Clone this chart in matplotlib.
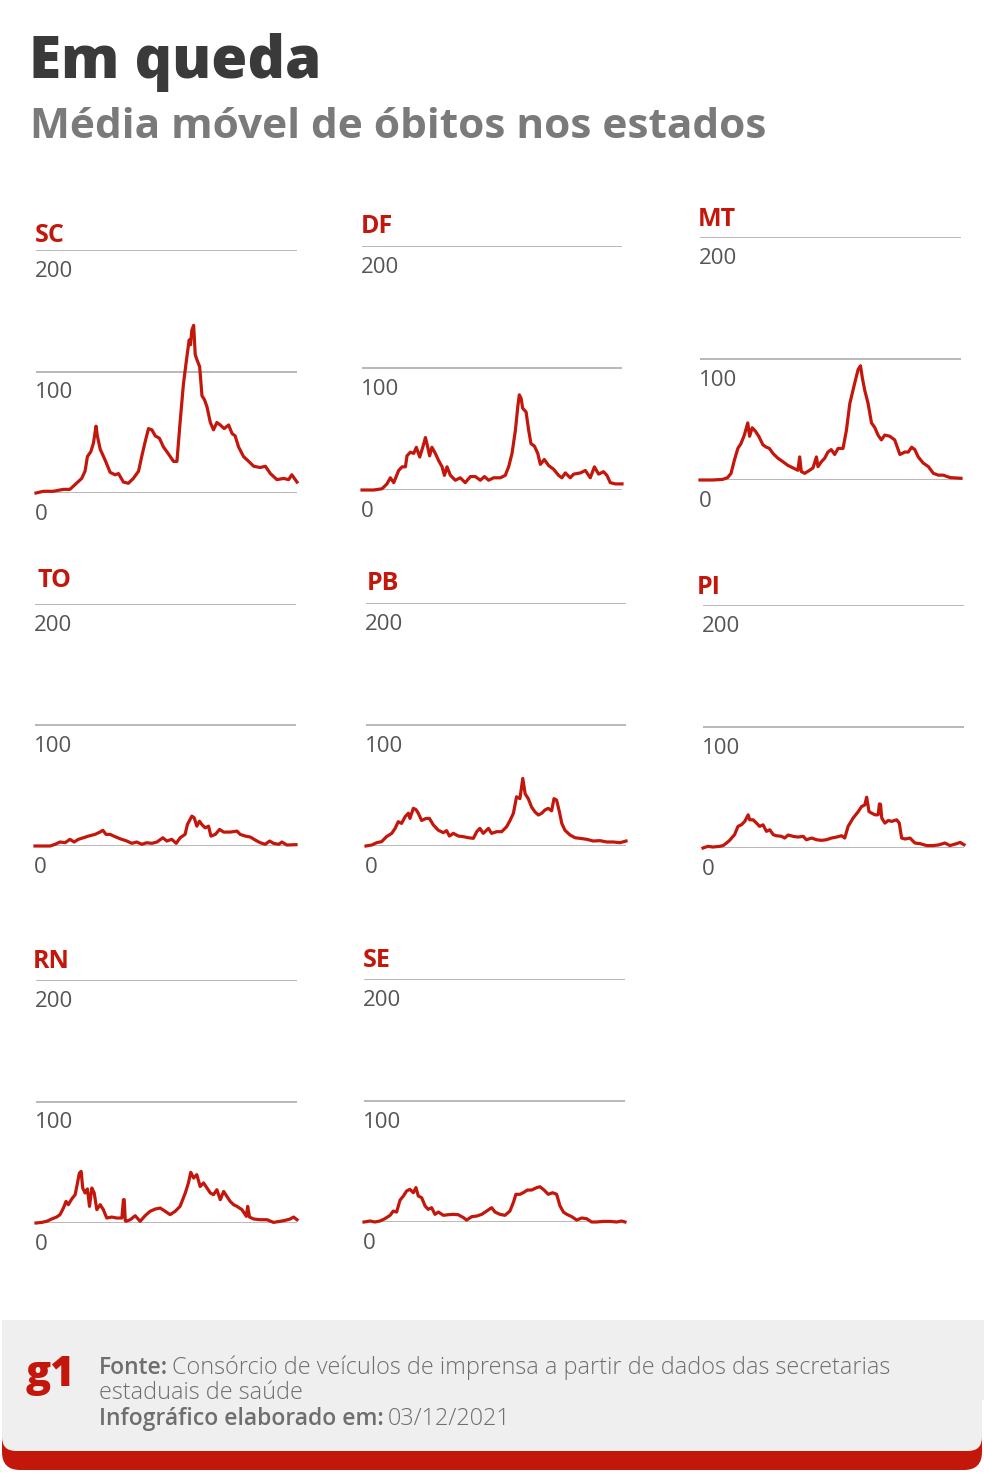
import matplotlib
matplotlib.use("Agg")
import matplotlib.pyplot as plt
from matplotlib.patches import FancyBboxPatch, Rectangle

W, H = 984, 1480
RED = "#c4170c"
GRID = "#acacac"
TICK = "#555555"
FOOT = "#6e6e6e"

plt.rcParams["font.family"] = ["Open Sans", "DejaVu Sans"]

# position along the period (% of the timeline) and 7-day moving average of deaths
states = ["SC", "DF", "MT", "TO", "PB", "PI", "RN", "SE"]

sc_t = [0, 2.8, 6.6, 10.5, 13, 15, 17.5, 18.8, 19.7, 21, 22, 23, 23.5, 24.6, 26.5, 28.4,
        30.3, 31.6, 33.5, 35.4, 37.3, 39.3, 40.5, 41.8, 43.1, 44.4, 45.7, 47.3, 48.8, 50.8,
        52.7, 54, 55.2, 56.5, 57.8, 58.7, 59.2, 59.7, 60.4, 61, 61.6, 62.7, 63.6, 64.5, 65.5,
        66.8, 68, 69.3, 70.6, 72.1, 73.8, 75.1, 76.3, 77.6, 79.5, 81.5, 83.4, 85.9, 87.9,
        89.8, 92.3, 94.9, 96.8, 98, 100]
sc_v = [0, 1.4, 1.4, 3, 3, 7, 12, 18, 30, 34, 41, 55, 47, 36, 27, 17,
        15, 16, 9, 8, 12, 18, 30, 42, 53, 52, 47, 45, 38, 32,
        26, 26, 58, 90, 112, 126, 122, 134, 138, 114, 110, 104, 80, 77, 71,
        58, 52, 58, 56, 53, 56, 49, 47, 38, 30, 26, 22, 21, 22,
        16, 11, 12, 11, 15, 9]

df_t = [0, 4.5, 7.7, 9.6, 10.9, 12.2, 14.1, 15.4, 16.7, 17.3, 18.6, 19.9, 20.9, 22.2, 23.5,
        24.4, 25.3, 26, 26.9, 28.2, 29.5, 30.8, 31.7, 32.7, 34, 35.9, 37.8, 39.7, 41.7, 43.6,
        45.5, 47.1, 48.7, 50.6, 53.2, 55.1, 56.4, 57.7, 59, 59.9, 60.5, 61.2, 61.8, 63.1,
        64.1, 65, 66.3, 67.6, 68.6, 70.1, 71.8, 73.7, 75.6, 76.9, 78.2, 80.1, 81.4, 84, 85.9,
        87.8, 89.4, 91, 92.9, 94.2, 95.5, 97.4, 100]
df_v = [0, 0, 1, 5, 10, 6, 16, 19, 19, 28, 31, 30, 35, 27, 36,
        43, 35, 28, 35, 30, 24, 19, 12, 19, 12, 8, 10, 6, 11, 11,
        8, 11, 8, 10, 10, 12, 19, 30, 49, 68, 78, 75, 67, 64,
        49, 38, 36, 30, 21, 25, 20, 17, 12, 10, 14, 10, 13, 14, 16,
        10, 19, 13, 15, 12, 6, 5, 5]

mt_t = [0, 4.9, 8.7, 10.6, 11.9, 13.2, 14.5, 15.7, 17, 18.3, 19, 20, 21.3, 22.5, 24.1, 25.4,
        26.6, 27.9, 29.8, 31.8, 33.7, 35.6, 37.5, 38.2, 38.8, 40.1, 42, 43.3, 44.6, 45.2,
        46.5, 47.8, 49, 50.3, 51.6, 52.9, 54.8, 56.1, 57.4, 59.3, 60.6, 61.5, 62.2, 63.1,
        64.4, 65.7, 67, 68.2, 69.5, 70.8, 72.7, 74.6, 76.6, 78.5, 79.8, 81.1, 82.3, 83.6,
        85.5, 87.5, 89.4, 91.3, 93.2, 95.8, 100]
mt_v = [0, 0, 0.5, 2, 5.5, 16.5, 26, 30, 37, 47, 36, 43, 40, 36, 29, 27,
        26, 22, 18, 15, 12, 10, 8, 19, 7, 5.5, 8, 10, 19, 11,
        15, 18, 23, 25, 21, 26, 26, 41, 63, 80, 91, 94, 84, 74,
        63, 47, 43, 37, 33, 37, 36, 33, 21, 23, 23, 27, 25, 19,
        14, 11, 5.5, 4, 4, 2, 1.4]

to_t = [0, 5.8, 7.7, 9.6, 11.5, 13.4, 15, 16.6, 18.5, 20.5, 23, 24.9, 26, 27.2, 28.8, 30.7,
        32.6, 35.2, 37.1, 39, 40.9, 42.8, 44.8, 46.7, 49, 50.5, 52.4, 54.1, 55.6, 57.5,
        58.4, 60.1, 61, 62, 63, 63.9, 65.2, 66.5, 67.4, 69.1, 70.7, 72.3, 74.8, 77.4,
        78.6, 80.6, 82.5, 84.4, 86.3, 88.2, 89.9, 91.4, 93.4, 94.6, 96.5, 100]
to_v = [0, 0, 1.4, 3.3, 2.7, 5.5, 3.3, 5.5, 6.8, 8.2, 9.6, 11.5, 13, 9.6, 9.6, 7.7,
        6, 4.1, 2.2, 3.3, 1.4, 2.7, 2.2, 3.3, 6.8, 4.1, 5.5, 2.2, 6.8, 9.6,
        17.8, 24.7, 23.3, 16.4, 20.5, 17.8, 15, 16.4, 8.2, 9.6, 13.7, 11.5, 11.5, 12.3,
        9.6, 8.2, 7.4, 4.9, 2.7, 1.4, 4.1, 2.2, 1.4, 3.3, 0.8, 1.1]

pb_t = [0, 2.2, 4.1, 6, 7.9, 9.9, 11.2, 12.4, 13.7, 15, 16.3, 16.9, 18.2, 19.2, 20.1, 21.4,
        23.1, 24.4, 25.9, 27.8, 29.7, 31, 32.1, 33.6, 35.5, 37.4, 39.4, 41.3, 42.6, 43.8,
        45.1, 47.1, 48.3, 50.3, 52.2, 54.1, 55.4, 56.7, 57.9, 59.2, 60.3, 61.2, 62.4, 63.7,
        65, 66.3, 67.6, 68.8, 70.1, 71.4, 72.3, 73.3, 74.4, 75.3, 76.5, 78.5, 80.4, 82.3,
        84.9, 87.4, 90, 92.6, 95.1, 97.7, 100]
pb_v = [0, 0.8, 2.7, 3.6, 7.7, 10.4, 14.5, 20, 18.6, 24, 27, 22.7, 31, 30, 27, 21,
        22.7, 22.7, 17.3, 13, 11, 12.6, 8.2, 10.4, 8.2, 7.7, 6.8, 6.3, 11.8, 14.5,
        10.4, 14.5, 10.4, 11.8, 11.8, 15.9, 21, 27, 40.5, 39, 55.6, 43, 39, 32,
        28, 25.5, 27, 29.6, 31, 29, 39, 37.8, 28, 18.6, 13, 9, 6.8, 6.3,
        5.5, 4.1, 4.4, 3.3, 3.3, 2.7, 4.1]

pi_t = [0, 1.9, 3.8, 6.4, 7.7, 9, 10.2, 12.1, 13.4, 14.7, 16, 17.3, 17.9, 19.2, 20.5, 21.7,
        23, 24.3, 25.6, 26.9, 28.1, 30.1, 31.3, 32.6, 34.5, 36.4, 38.4, 39.6, 41.6, 43.5,
        45.4, 47.3, 49.2, 51.2, 53.1, 54.3, 55.6, 57.5, 59.5, 60.7, 62, 62.7, 63.6, 64.6,
        65.9, 67.1, 67.6, 68, 68.5, 69.7, 71, 72.3, 74.2, 75.2, 76.1, 77.4, 79.3, 81.2,
        83.1, 85.7, 88.2, 90.2, 92.7, 94.6, 97.2, 98.5, 100]
pi_v = [0, 1.4, 0.8, 1.4, 2, 4.1, 6.3, 11, 17.8, 19.1, 21.9, 27.3, 23.2, 23.2, 20.5, 17.8,
        19.1, 13.7, 15, 11, 10.1, 9.6, 8.2, 10.7, 9.6, 9, 9.6, 6.8, 8.2, 6.8,
        6.3, 6.8, 8.2, 9, 10.1, 8.2, 17.8, 24.6, 30, 34, 35.5, 41.8, 30, 28.7,
        27.3, 27.3, 36.3, 36, 24.6, 20.5, 22.7, 21.9, 23.2, 20.5, 8.2, 7.4, 8.2, 4.1,
        3.6, 2, 2, 2.5, 4.1, 2, 3.6, 4.6, 2.7]

rn_t = [0, 2.2, 4.1, 6, 7.9, 9.2, 10.5, 11.5, 12.4, 13.7, 15, 15.9, 16.6, 17.3, 17.9, 18.8,
        19.7, 20.5, 21.4, 22.3, 23.3, 24.6, 25.8, 27.1, 29, 30.9, 32.9, 33.5, 33.8, 34.2,
        34.5, 36.1, 38, 39.9, 41.8, 43.7, 45.7, 47.6, 49.5, 51.4, 53.3, 55.2, 57.2, 58.4,
        59.3, 60.4, 61.6, 62.9, 64.2, 65.5, 66.8, 68, 69.3, 70.6, 71.9, 73.1, 74.4, 75.7,
        77, 78.9, 80.6, 81.1, 81.8, 83.4, 85.9, 88.5, 91, 93.6, 95.5, 97.4, 98.7, 100]
rn_v = [0, 0.5, 1.4, 3.3, 4.9, 6.9, 12.3, 17.8, 15.1, 19.8, 23.3, 33, 41, 42.5, 28.8, 24.7,
        28, 13.7, 28.8, 24.7, 11, 15.1, 11, 4.1, 4.9, 4.1, 4.1, 19.2, 19.2, 2,
        1.4, 2.7, 6, 1.4, 6, 9.6, 11.5, 12.3, 9.6, 6.9, 9.6, 13.7, 24.7, 33,
        41.7, 37, 39.8, 30, 33, 28.8, 24.7, 23.3, 27.4, 19.2, 26, 22, 17.8, 15.1,
        13.7, 11, 5.5, 13.7, 4.9, 3.3, 2.7, 2.7, 0.5, 1.4, 2.2, 3.3, 4.9, 2.7]

se_t = [0, 2.3, 4.2, 6.1, 8, 10, 11.2, 12.5, 13.8, 15.1, 16.3, 17.6, 18.9, 19.9, 20.8, 22.1,
        23.4, 24.6, 25.9, 27.2, 28.5, 30.4, 32.3, 34.2, 36.1, 38.1, 39.3, 41.3, 43.2, 45.1,
        47, 48.9, 50.2, 52.1, 54, 55.9, 57.2, 58.2, 59.8, 61, 62.6, 64.2, 66.2, 67.4, 69,
        70.6, 72.3, 73.8, 75.1, 76.4, 77.7, 79.6, 81.5, 83.4, 85.3, 87.2, 89.1, 91.7, 94.3,
        96.8, 98.7, 100]
se_v = [0, 0.8, 0, 0.8, 2.7, 5.5, 9, 8.2, 18, 21.4, 25.5, 26.9, 24.1, 28.3, 21.4, 20,
        13.2, 10.4, 11.8, 6.3, 8.2, 5.5, 6, 6.3, 6, 3.6, 1.6, 4.4, 4.9, 6.3,
        9, 11.8, 8.2, 6.3, 5.5, 9, 15.9, 22.8, 22.8, 24.1, 26.3, 26.3, 28.3, 29, 26.3,
        22.8, 24.1, 22.8, 13.2, 8.2, 6.3, 4.4, 1.6, 3.3, 2.7, 0, 0, 0.5, 0.5,
        0, 0.8, 0]

series = {
    "SC": (sc_t, sc_v), "DF": (df_t, df_v), "MT": (mt_t, mt_v), "TO": (to_t, to_v),
    "PB": (pb_t, pb_v), "PI": (pi_t, pi_v), "RN": (rn_t, rn_v), "SE": (se_t, se_v),
}
y_ticks = [0, 100, 200]

# panel placement in pixels: left, right, y of the 200 line, y of the 0 line, title x, title baseline
panels = {
    "SC": (36, 297, 250, 493, 35, 242),
    "DF": (362, 622, 246, 490, 361, 233),
    "MT": (700, 961, 237, 480, 698, 226),
    "TO": (35, 296, 604, 846, 38, 587),
    "PB": (366, 626, 603, 846, 367, 590),
    "PI": (703, 964, 605, 848, 697, 594),
    "RN": (36, 297, 980, 1223, 33, 968),
    "SE": (364, 625, 979, 1222, 363, 967),
}

fig = plt.figure(figsize=(W / 100, H / 100), dpi=100)
fig.patch.set_facecolor("white")
renderer = fig.canvas.get_renderer()

# full-size overlay in pixel coordinates for titles and footer
bg = fig.add_axes([0, 0, 1, 1])
bg.set_xlim(0, W)
bg.set_ylim(H, 0)
bg.axis("off")


def text_after(prev, s, gap, **kw):
    # place a text right after another one on the same baseline
    bb = prev.get_window_extent(renderer)
    x = bb.x1 + gap
    return bg.text(x, prev.get_position()[1], s, va="baseline", **kw)


bg.text(29, 78, "Em queda", fontsize=42, fontweight="heavy", color="#3a3a3a", va="baseline")
bg.text(30, 138, "Média móvel de óbitos nos estados", fontsize=30.5, fontweight="bold",
        color="#7a7a7a", va="baseline")

for st in states:
    x0, x1, ytop, ybot, tx, ty = panels[st]
    ax = fig.add_axes([x0 / W, 1 - ybot / H, (x1 - x0) / W, (ybot - ytop) / H])
    ax.set_xlim(0, 100)
    ax.set_ylim(0, 200)
    ax.axis("off")
    for v in y_ticks:
        ax.axhline(v, color=GRID, lw=1.2, zorder=1)
    t, vals = series[st]
    ax.plot(t, vals, color=RED, lw=2.3, solid_joinstyle="round", zorder=3, clip_on=False)
    bg.text(tx, ty, st, fontsize=18, fontweight="bold", color=RED, va="baseline")
    for v in y_ticks:
        yl = ybot - (ybot - ytop) * v / 200
        bg.text(x0 - 1, yl + 27, str(v), fontsize=16, fontweight="normal", color=TICK,
                va="baseline")

# footer
bg.add_patch(FancyBboxPatch((2, 1390), 980, 80, boxstyle="round,pad=0,rounding_size=18",
                            facecolor=RED, edgecolor="none"))
bg.add_patch(Rectangle((2, 1320), 982, 80, facecolor="#efefef", edgecolor="none"))
bg.add_patch(FancyBboxPatch((2, 1360), 980, 91, boxstyle="round,pad=0,rounding_size=14",
                            facecolor="#efefef", edgecolor="none"))

bg.text(26, 1386, "g1", fontsize=30, fontweight="heavy", color=RED, va="baseline")
f1 = bg.text(99, 1374, "Fonte:", fontsize=16.5, fontweight="semibold", color=FOOT,
             va="baseline")
text_after(f1, "Consórcio de veículos de imprensa a partir de dados das secretarias", 4,
           fontsize=16.8, fontweight="light", color=FOOT)
bg.text(99, 1399, "estaduais de saúde", fontsize=16.8, fontweight="light", color=FOOT,
        va="baseline")
f2 = bg.text(99, 1425, "Infográfico elaborado em:", fontsize=16.5, fontweight="semibold",
             color=FOOT, va="baseline")
text_after(f2, "03/12/2021", 4, fontsize=16.8, fontweight="light", color=FOOT)

fig.savefig("out.png", dpi=100)
